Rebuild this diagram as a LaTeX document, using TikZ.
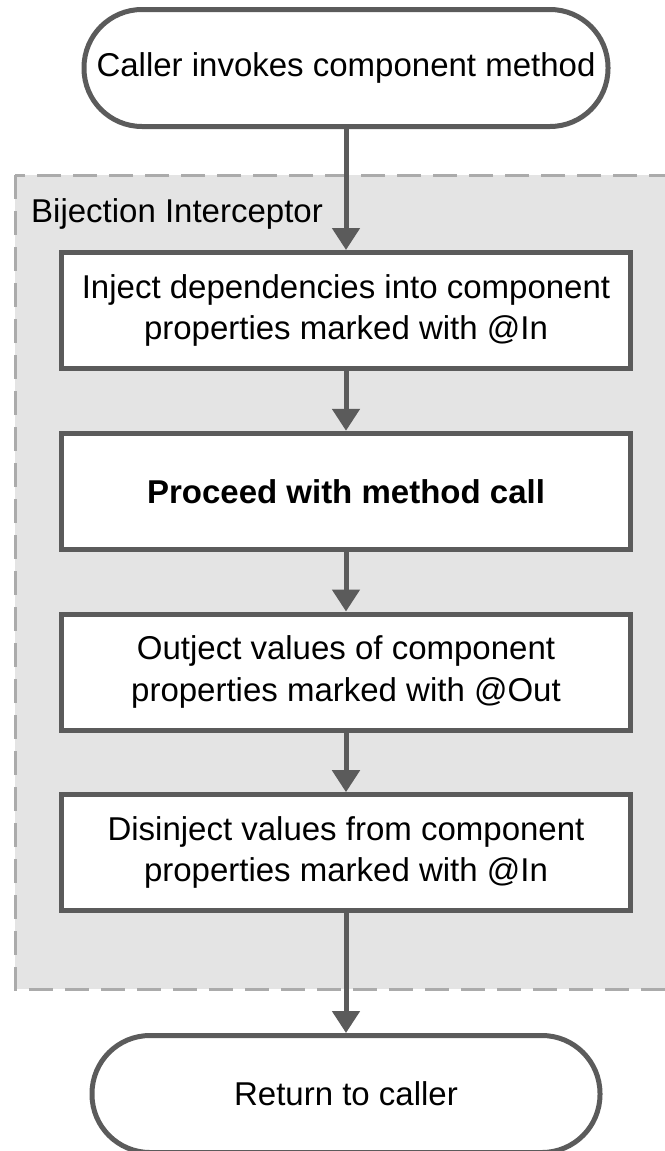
\documentclass[tikz,border=0pt]{standalone}
\usepackage{fontspec}
\setmainfont{Liberation Sans}
\usetikzlibrary{arrows.meta}
\definecolor{edge}{HTML}{5B5B5B}
\definecolor{zone}{HTML}{E4E4E4}
\definecolor{zoneline}{HTML}{ABABAB}

\begin{document}
\begin{tikzpicture}[x=1pt,y=-1pt,
  every node/.style={font=\fontsize{33}{41.5}\selectfont, text=black},
  terminal/.style={draw=edge, line width=5pt, fill=white, rounded corners=58pt,
    minimum height=117pt, inner sep=0pt},
  stepbox/.style={draw=edge, line width=5pt, fill=white, minimum width=569pt,
    minimum height=116pt, align=center, inner sep=0pt},
  flow/.style={draw=edge, line width=5pt, -{Triangle[width=27pt,length=22pt]}},
  zonebox/.style={fill=zone, draw=zoneline, line width=3pt, dash pattern=on 24pt off 12pt}]

\useasboundingbox (0,0) rectangle (664,1151);

% interceptor region
\draw[zonebox] (15,175) rectangle (700,989);
\node[anchor=base west, inner sep=0pt] (lbl) at (31,222) {Bijection Interceptor};

% flow steps
\node[terminal, minimum width=524pt] (start) at (346,68) {Caller invokes component method};
\node[stepbox] (inject) at (346,310.5) {Inject dependencies into component\\properties marked with @In};
\node[stepbox, font=\fontsize{33}{41.5}\selectfont\bfseries] (proceed) at (346,491.3) {Proceed with method call};
\node[stepbox] (outject) at (346,672) {Outject values of component\\properties marked with @Out};
\node[stepbox] (disinject) at (346,852.7) {Disinject values from component\\properties marked with @In};
\node[terminal, minimum width=508pt] (return) at (346,1094) {Return to caller};

% connectors
\draw[flow] (start) -- (inject);
\draw[flow] (inject) -- (proceed);
\draw[flow] (proceed) -- (outject);
\draw[flow] (outject) -- (disinject);
\draw[flow] (disinject) -- (return);
\end{tikzpicture}
\end{document}
